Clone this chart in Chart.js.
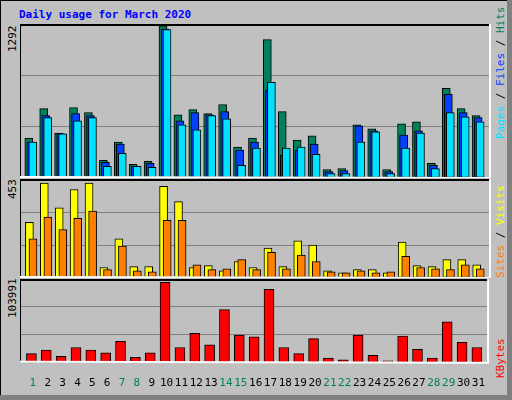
<!DOCTYPE html>
<html>
<head>
<meta charset="utf-8">
<script src="https://cdn.jsdelivr.net/npm/chart.js@4"></script>
<style>
  body { margin: 0; background: #fff; }
  #frame {
    position: relative; width: 507px; height: 395px; background: #c0c0c0;
    border-right: 5px solid #808080; border-bottom: 5px solid #808080;
    box-shadow: inset 1px 1px 0 #000; font-family: "DejaVu Sans Mono", monospace;
  }
  .cv { position: absolute; }
  .title { position: absolute; left: 19px; top: 8px; color: #0000ff; font-weight: bold; font-size: 11px; }
  .vlab { position: absolute; transform-origin: left top; transform: rotate(-90deg); white-space: nowrap; font-size: 11px; line-height: 12px; }
</style>
</head>
<body>
<div id="frame">
  <div class="title">Daily usage for March 2020</div>
  <canvas id="top" class="cv"></canvas>
  <canvas id="mid" class="cv"></canvas>
  <canvas id="bot" class="cv"></canvas>
  <div class="vlab" style="left:7px;top:52px">1292</div>
  <div class="vlab" style="left:7px;top:199px">453</div>
  <div class="vlab" style="left:7px;top:318px">103991</div>
  <div class="vlab" style="left:495px;top:139px"><span style="color:#00e0ff">Pages</span> / <span style="color:#0040ff">Files</span> / <span style="color:#00805c">Hits</span></div>
  <div class="vlab" style="left:495px;top:278px"><span style="color:#ff8000">Sites</span> / <span style="color:#ffff00">Visits</span></div>
  <div class="vlab" style="left:495px;top:378px"><span style="color:#ff0000">KBytes</span></div>
</div>
<script>
// March 2020 daily figures
const days = [1,2,3,4,5,6,7,8,9,10,11,12,13,14,15,16,17,18,19,20,21,22,23,24,25,26,27,28,29,30,31];
const weekendDays = [1,7,8,14,15,21,22,28,29];
const hits   = [339,589,382,598,555,150,305,115,141,1292,537,580,546,624,262,339,1175,563,322,357,72,81,451,417,72,460,477,124,761,589,529];
const files  = [305,529,374,546,529,133,288,98,124,1264,486,555,537,563,236,305,747,193,236,288,55,64,443,400,55,365,400,107,710,555,512];
const pages  = [305,512,374,486,512,98,210,98,90,1260,451,408,529,503,107,253,813,253,262,201,38,38,305,391,38,253,382,81,555,520,477];
const sites  = [266,453,335,423,453,50,187,54,54,438,365,50,59,34,79,50,143,54,178,157,34,25,40,40,25,172,59,54,88,88,63];
const visits = [187,291,231,285,320,40,153,34,29,275,275,63,40,44,88,40,123,44,109,79,29,25,34,25,29,103,50,44,40,63,44];
const kbytes = [11765,16320,8350,19735,16320,12904,27705,7211,12904,103991,19735,37953,23151,68694,35676,33399,94882,19735,11765,31121,6072,3795,35676,9488,2657,34537,17458,6072,52754,26567,19735];

function place(id, left, top, w, h) {
    const c = document.getElementById(id);
    c.style.left = left + 'px'; c.style.top = top + 'px';
    c.style.width = w + 'px'; c.style.height = h + 'px';
    c.width = w; c.height = h;
    return c;
}

function series(values, shift) {
    return values.map((v, i) => ({ x: days[i] + shift, y: v }));
}

function barSet(values, shift, color, width) {
    return {
        data: series(values, shift),
        backgroundColor: color,
        borderColor: '#000',
        borderWidth: 1,
        borderSkipped: false,
        grouped: false,
        barThickness: width
    };
}

function makeChart(canvas, datasets, yMax, showX) {
    return new Chart(canvas, {
        type: 'bar',
        data: { datasets: datasets },
        options: {
            responsive: false,
            animation: false,
            layout: { padding: 0 },
            plugins: { legend: { display: false }, tooltip: { enabled: false } },
            scales: {
                x: {
                    type: 'linear', min: 0.13, max: 31.72, offset: false,
                    display: showX,
                    grid: { display: false },
                    border: { display: false },
                    afterBuildTicks: s => { s.ticks = days.map(d => ({ value: d })); },
                    ticks: {
                        autoSkip: false, maxRotation: 0, padding: 6,
                        font: { family: 'DejaVu Sans Mono', size: 11 },
                        color: ctx => weekendDays.includes(ctx.tick.value) ? '#00805c' : '#000'
                    }
                },
                y: {
                    min: 0, max: yMax,
                    afterBuildTicks: s => { s.ticks = [0, 1, 2, 3].map(k => ({ value: yMax * k / 3 })); },
                    afterFit: s => { s.width = 0; },
                    ticks: { display: false },
                    grid: { color: '#808080', lineWidth: 1, drawTicks: false },
                    border: { display: true, color: '#000', width: 2 }
                }
            }
        },
        plugins: [{
            id: 'frameLines',
            afterDraw: chart => {
                const a = chart.chartArea, g = chart.ctx;
                g.save();
                g.strokeStyle = '#000'; g.lineWidth = 2;
                g.beginPath(); g.moveTo(a.left, a.top + 1); g.lineTo(a.right, a.top + 1); g.stroke();
                g.strokeStyle = '#fff';
                g.beginPath(); g.moveTo(a.right - 1, a.top); g.lineTo(a.right - 1, a.bottom); g.lineTo(a.left, a.bottom - 1); g.stroke();
                g.restore();
            }
        }]
    });
}

makeChart(place('top', 20, 24, 471, 154), [
    barSet(pages, -0.01, '#00e0ff', 8),
    barSet(files, -0.14, '#0040ff', 8),
    barSet(hits, -0.28, '#00805c', 8)
], 1307, false);

makeChart(place('mid', 20, 179, 471, 99), [
    barSet(visits, 0.0, '#ff8000', 8),
    barSet(sites, -0.24, '#ffff00', 8)
], 473, false);

makeChart(place('bot', 20, 279, 471, 117), [
    barSet(kbytes, -0.1, '#ff0000', 10)
], 108166, true);
</script>
</body>
</html>
